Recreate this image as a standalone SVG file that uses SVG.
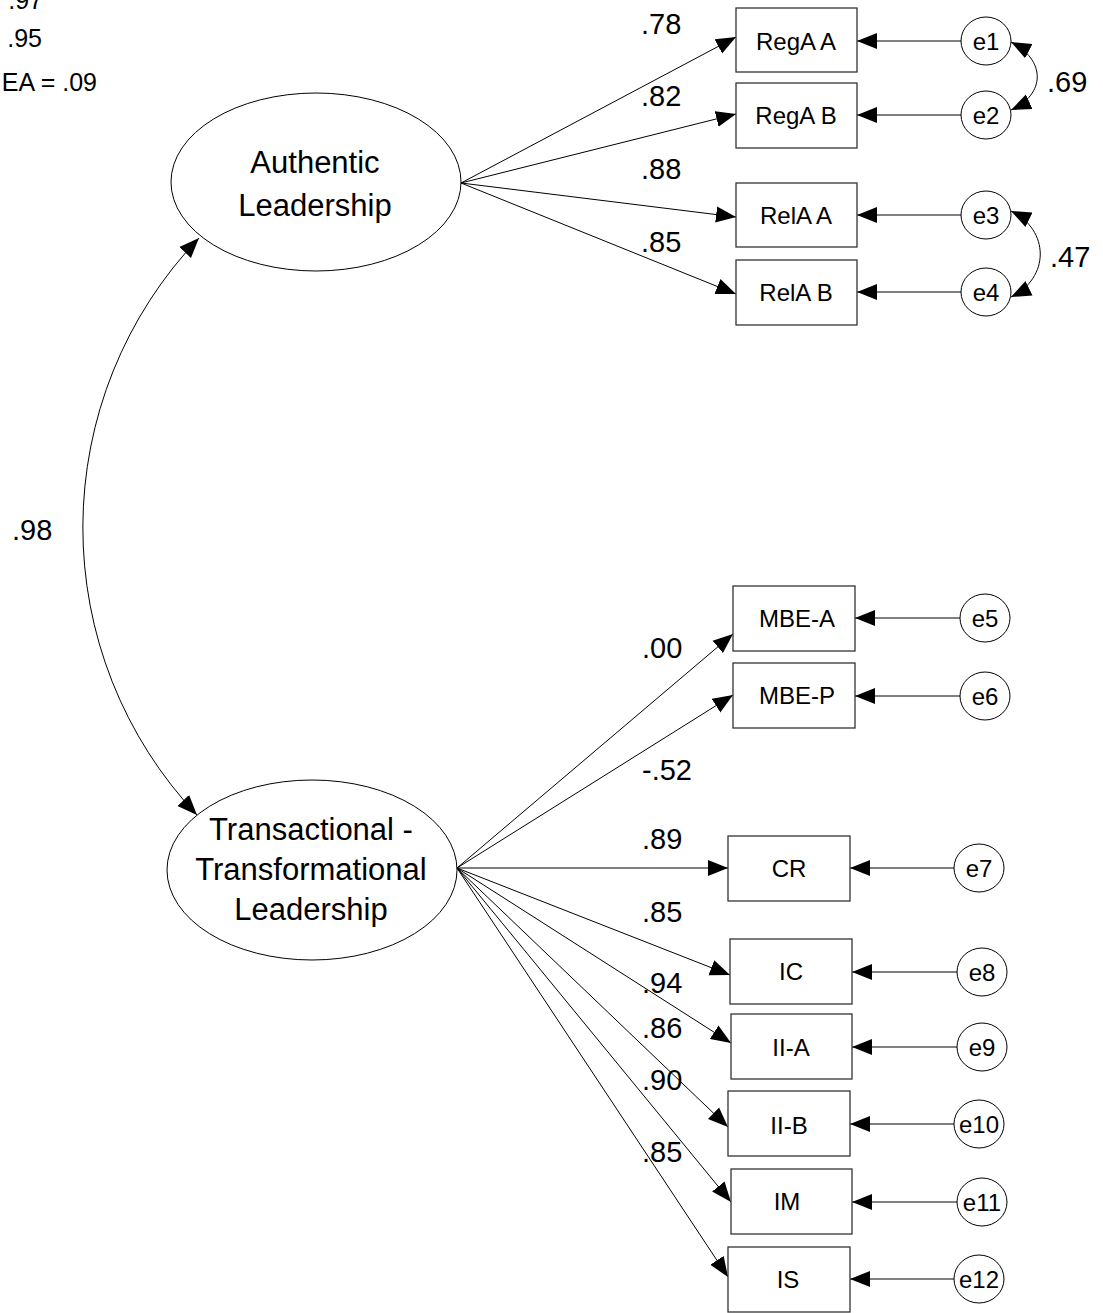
<svg xmlns="http://www.w3.org/2000/svg" width="1103" height="1313" viewBox="0 0 1103 1313">
  <defs>
    <marker id="ah" markerUnits="userSpaceOnUse" markerWidth="21" markerHeight="17" refX="20" refY="8.5" orient="auto-start-reverse" viewBox="0 0 21 17">
      <path d="M0,0.5 L20,8.5 L0,16.5 z" fill="#000"/>
    </marker>
    <style>
      text { font-family: "Liberation Sans", Arial, sans-serif; fill: #000; }
      .lat { fill: #fff; stroke: #000; stroke-width: 1; }
      .obs { fill: #fff; stroke: #333; stroke-width: 1.3; }
      .err { fill: #fff; stroke: #000; stroke-width: 1; }
      .lt { font-size: 31px; text-anchor: middle; }
      .ot { font-size: 24px; text-anchor: middle; }
      .et { font-size: 24px; text-anchor: middle; }
      .num { font-size: 29px; }
      .fit { font-size: 25px; text-anchor: end; }
      .cn { fill: none; stroke: #000; stroke-width: 1; }
      .arr { marker-end: url(#ah); }
      .dbl { marker-start: url(#ah); marker-end: url(#ah); }
    </style>
  </defs>

  <!-- model fit -->
  <g id="fit">
    <text class="fit" x="43" y="9">.97</text>
    <text class="fit" x="42" y="47">.95</text>
    <text class="fit" x="97" y="91">EA = .09</text>
  </g>

  <!-- paths, residual paths and covariances -->
  <g id="connectors">
    <!-- Authentic Leadership loadings -->
    <line class="cn arr" x1="461" y1="183" x2="736" y2="37"/>
    <line class="cn arr" x1="461" y1="183" x2="736" y2="114"/>
    <line class="cn arr" x1="461" y1="183" x2="736" y2="217"/>
    <line class="cn arr" x1="461" y1="183" x2="736" y2="294"/>
    <!-- Transactional - Transformational Leadership loadings -->
    <line class="cn arr" x1="457" y1="868" x2="733" y2="634"/>
    <line class="cn arr" x1="457" y1="868" x2="733" y2="695"/>
    <line class="cn arr" x1="457" y1="868" x2="728" y2="868"/>
    <line class="cn arr" x1="457" y1="868" x2="730" y2="975"/>
    <line class="cn arr" x1="457" y1="868" x2="731" y2="1043"/>
    <line class="cn arr" x1="457" y1="868" x2="728" y2="1127"/>
    <line class="cn arr" x1="457" y1="868" x2="731" y2="1202"/>
    <line class="cn arr" x1="457" y1="868" x2="728" y2="1277"/>
    <!-- residuals -->
    <line class="cn arr" x1="961" y1="41" x2="857" y2="41"/>
    <line class="cn arr" x1="961" y1="115" x2="857" y2="115"/>
    <line class="cn arr" x1="961" y1="215" x2="857" y2="215"/>
    <line class="cn arr" x1="961" y1="292" x2="857" y2="292"/>
    <line class="cn arr" x1="960" y1="618" x2="855" y2="618"/>
    <line class="cn arr" x1="960" y1="696" x2="855" y2="696"/>
    <line class="cn arr" x1="954" y1="868" x2="850" y2="868"/>
    <line class="cn arr" x1="957" y1="972" x2="852" y2="972"/>
    <line class="cn arr" x1="957" y1="1047" x2="852" y2="1047"/>
    <line class="cn arr" x1="954" y1="1124" x2="850" y2="1124"/>
    <line class="cn arr" x1="957" y1="1202" x2="852" y2="1202"/>
    <line class="cn arr" x1="954" y1="1279" x2="850" y2="1279"/>
    <!-- covariances -->
    <path class="cn dbl" d="M199,238 A419,419 0 0 0 197,815"/>
    <path class="cn dbl" d="M1011,42 C1046,60 1046,94 1011,110"/>
    <path class="cn dbl" d="M1011,211 C1050,230 1050,278 1011,297"/>
  </g>

  <!-- coefficients -->
  <g id="labels">
    <text class="num" x="641" y="34">.78</text>
    <text class="num" x="641" y="106">.82</text>
    <text class="num" x="641" y="179">.88</text>
    <text class="num" x="641" y="252">.85</text>
    <text class="num" x="1047" y="92">.69</text>
    <text class="num" x="1050" y="267">.47</text>
    <text class="num" x="12" y="540">.98</text>
    <text class="num" x="642" y="658">.00</text>
    <text class="num" x="642" y="780">-.52</text>
    <text class="num" x="642" y="849">.89</text>
    <text class="num" x="642" y="922">.85</text>
    <text class="num" x="642" y="993">.94</text>
    <text class="num" x="642" y="1038">.86</text>
    <text class="num" x="642" y="1090">.90</text>
    <text class="num" x="642" y="1162">.85</text>
  </g>

  <!-- latent variables -->
  <g id="authentic">
    <ellipse class="lat" cx="316" cy="182" rx="145" ry="89"/>
    <text class="lt" x="315" y="173">Authentic</text>
    <text class="lt" x="315" y="216">Leadership</text>
  </g>
  <g id="transformational">
    <ellipse class="lat" cx="312" cy="870" rx="145" ry="90"/>
    <text class="lt" x="311" y="840">Transactional -</text>
    <text class="lt" x="311" y="880">Transformational</text>
    <text class="lt" x="311" y="920">Leadership</text>
  </g>

  <!-- observed variables -->
  <g id="rega-a"><rect class="obs" x="736" y="8" width="121" height="64"/><text class="ot" x="796" y="50">RegA A</text></g>
  <g id="rega-b"><rect class="obs" x="736" y="83" width="121" height="65"/><text class="ot" x="796" y="124">RegA B</text></g>
  <g id="rela-a"><rect class="obs" x="736" y="183" width="121" height="64"/><text class="ot" x="796" y="224">RelA A</text></g>
  <g id="rela-b"><rect class="obs" x="736" y="260" width="121" height="65"/><text class="ot" x="796" y="301">RelA B</text></g>
  <g id="mbe-a"><rect class="obs" x="733" y="586" width="122" height="65"/><text class="ot" x="797" y="627">MBE-A</text></g>
  <g id="mbe-p"><rect class="obs" x="733" y="663" width="122" height="65"/><text class="ot" x="797" y="704">MBE-P</text></g>
  <g id="cr"><rect class="obs" x="728" y="836" width="122" height="65"/><text class="ot" x="789" y="877">CR</text></g>
  <g id="ic"><rect class="obs" x="730" y="939" width="122" height="65"/><text class="ot" x="791" y="980">IC</text></g>
  <g id="ii-a"><rect class="obs" x="731" y="1014" width="121" height="65"/><text class="ot" x="791" y="1056">II-A</text></g>
  <g id="ii-b"><rect class="obs" x="728" y="1091" width="122" height="65"/><text class="ot" x="789" y="1134">II-B</text></g>
  <g id="im"><rect class="obs" x="731" y="1169" width="121" height="65"/><text class="ot" x="787" y="1210">IM</text></g>
  <g id="is"><rect class="obs" x="728" y="1247" width="122" height="65"/><text class="ot" x="788" y="1288">IS</text></g>

  <!-- error terms -->
  <g id="e1"><ellipse class="err" cx="986" cy="41" rx="25" ry="24"/><text class="et" x="986" y="50">e1</text></g>
  <g id="e2"><ellipse class="err" cx="986" cy="115" rx="25" ry="24"/><text class="et" x="986" y="124">e2</text></g>
  <g id="e3"><ellipse class="err" cx="986" cy="215" rx="25" ry="24"/><text class="et" x="986" y="224">e3</text></g>
  <g id="e4"><ellipse class="err" cx="986" cy="292" rx="25" ry="24"/><text class="et" x="986" y="301">e4</text></g>
  <g id="e5"><ellipse class="err" cx="985" cy="618" rx="25" ry="24"/><text class="et" x="985" y="627">e5</text></g>
  <g id="e6"><ellipse class="err" cx="985" cy="696" rx="25" ry="24"/><text class="et" x="985" y="705">e6</text></g>
  <g id="e7"><ellipse class="err" cx="979" cy="868" rx="25" ry="24"/><text class="et" x="979" y="877">e7</text></g>
  <g id="e8"><ellipse class="err" cx="982" cy="972" rx="25" ry="24"/><text class="et" x="982" y="981">e8</text></g>
  <g id="e9"><ellipse class="err" cx="982" cy="1047" rx="25" ry="24"/><text class="et" x="982" y="1056">e9</text></g>
  <g id="e10"><ellipse class="err" cx="979" cy="1124" rx="25" ry="24"/><text class="et" x="979" y="1133">e10</text></g>
  <g id="e11"><ellipse class="err" cx="982" cy="1202" rx="25" ry="24"/><text class="et" x="982" y="1211">e11</text></g>
  <g id="e12"><ellipse class="err" cx="979" cy="1279" rx="25" ry="24"/><text class="et" x="979" y="1288">e12</text></g>
</svg>
